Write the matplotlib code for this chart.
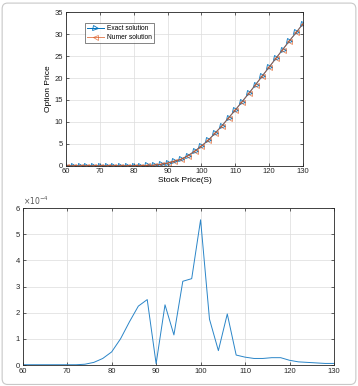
import numpy as np
import matplotlib
matplotlib.use("Agg")
import matplotlib.pyplot as plt
from matplotlib.patches import FancyBboxPatch

plt.rcParams['font.family'] = ['Liberation Sans', 'DejaVu Sans']

# stock prices on the grid
stock = list(range(60, 131, 2))

# option prices
exact_price = [0, 0, 0, 0, 0, 0, 0, 0, 0, 0, 0.01, 0.02, 0.05, 0.12,
               0.3, 0.6, 1.0, 1.45, 2.3, 3.3, 4.5, 5.8, 7.4, 9.05, 10.9,
               12.7, 14.6, 16.5, 18.5, 20.5, 22.5, 24.5, 26.5, 28.5, 30.4, 32.4]
numer_price = exact_price

# absolute error (x 1e-4)
abs_error = [0.01, 0.01, 0.01, 0.01, 0.01, 0.01, 0.01, 0.03, 0.1, 0.25,
             0.5, 1.0, 1.65, 2.25, 2.5, 0.05, 2.3, 1.15, 3.2, 3.3,
             5.55, 1.75, 0.55, 1.95, 0.38, 0.3, 0.25, 0.25, 0.28, 0.28,
             0.18, 0.12, 0.1, 0.08, 0.06, 0.06]

blue = '#0072BD'
orange = '#D95319'
edge = '#262626'

fig = plt.figure(figsize=(3.58, 3.86), dpi=100)

# light rounded frame around the figure
frame = FancyBboxPatch((0.006, 0.004), 0.988, 0.988,
                       boxstyle="round,pad=0,rounding_size=0.015",
                       transform=fig.transFigure, fill=False,
                       edgecolor='#c8c8c8', linewidth=0.8)
fig.patches.append(frame)


def style_axes(ax):
    for sp in ax.spines.values():
        sp.set_color(edge)
        sp.set_linewidth(0.6)
    ax.tick_params(direction='in', length=2.5, width=0.5, labelsize=5.5,
                   colors=edge, top=True, right=True, pad=2)
    ax.grid(True, color='#dcdcdc', linewidth=0.5)
    ax.set_axisbelow(True)


# top panel: option price
ax1 = fig.add_axes([0.1844, 0.5707, 0.662, 0.3975])
style_axes(ax1)
ax1.plot(stock, exact_price, color=blue, marker='>', markersize=3.6,
         markerfacecolor='none', markeredgewidth=0.6, linewidth=0.7,
         label='Exact solution')
ax1.plot(stock, numer_price, color=orange, marker='<', markersize=3.6,
         markerfacecolor='none', markeredgewidth=0.6, linewidth=0.7,
         alpha=0.7, label='Numer solution')
ax1.set_xlim(60, 130)
ax1.set_ylim(0, 35)
ax1.set_xticks(range(60, 131, 10))
ax1.set_yticks(range(0, 36, 5))
ax1.set_xlabel('Stock Price(S)', fontsize=6, labelpad=1)
ax1.set_ylabel('Option Price', fontsize=6, labelpad=2)
leg = ax1.legend(loc='upper left', bbox_to_anchor=(0.065, 0.95), fontsize=4.8,
                 frameon=True, fancybox=False, edgecolor=edge,
                 handlelength=2.6, borderpad=0.3, labelspacing=0.3,
                 handletextpad=0.4)
leg.get_frame().set_linewidth(0.5)

# bottom panel: absolute error
ax2 = fig.add_axes([0.0634, 0.0544, 0.8696, 0.4067])
style_axes(ax2)
ax2.plot(stock, np.array(abs_error) * 1e-4, color='#2a85c8', linewidth=0.7)
ax2.set_xlim(60, 130)
ax2.set_ylim(0, 6e-4)
ax2.set_xticks(range(60, 131, 10))
ax2.set_yticks(np.arange(0, 7) * 1e-4)
ax2.set_yticklabels([str(i) for i in range(7)])
ax2.text(0.0, 1.005, r'$\times10^{-4}$', transform=ax2.transAxes,
         fontsize=5.5, color='#555555', ha='left', va='bottom')

fig.savefig('out.png', dpi=100)
